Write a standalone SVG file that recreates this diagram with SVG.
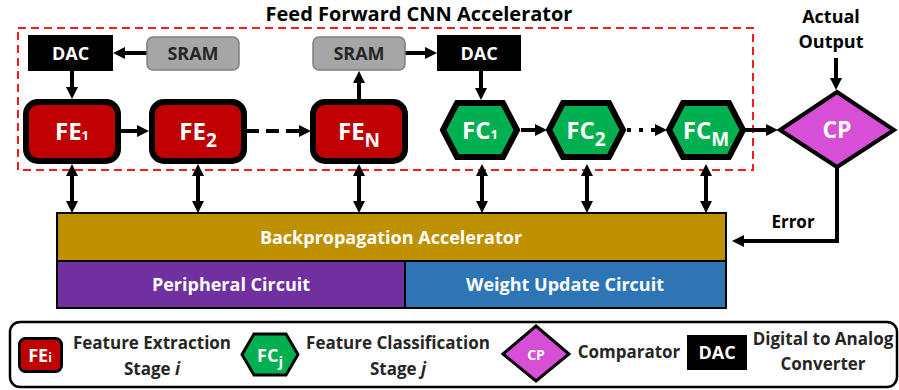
<svg xmlns="http://www.w3.org/2000/svg" width="899" height="390" viewBox="0 0 899 390">
<style>
text{font-family:"Open Sans","Noto Sans","Liberation Sans",sans-serif;font-weight:bold;text-anchor:middle}
.w{fill:#fff}
.k{fill:#000}
.g{fill:#262626}
.fe{fill:#c00000;stroke:#000;stroke-width:6}
.fc{fill:#00b050;stroke:#000;stroke-width:6;stroke-linejoin:miter}
.dac{fill:#000}
.sram{fill:#a6a6a6;stroke:#7f7f7f;stroke-width:1.5}
.c{stroke:#000;stroke-width:4;fill:none}
.a{marker-end:url(#ah)}
.b{marker-start:url(#ah);marker-end:url(#ah)}
</style>
<defs>
<marker id="ah" viewBox="0 0 12 12" refX="2" refY="6" markerWidth="12" markerHeight="12" markerUnits="userSpaceOnUse" orient="auto-start-reverse">
<path d="M0,0 L12,6 L0,12 z" fill="#000"/>
</marker>
</defs>
<rect width="899" height="390" fill="#fff"/>

<g id="title">
<text x="419" y="21" class="k" font-size="20">Feed Forward CNN Accelerator</text>
<rect x="18" y="28" width="735" height="142" fill="none" stroke="#ff1a1a" stroke-width="2" stroke-dasharray="8 5"/>
</g>

<g id="connectors">
<line class="c a" x1="147" y1="53" x2="123" y2="53"/>
<line class="c a" x1="72" y1="71" x2="72" y2="89"/>
<line class="c a" x1="121" y1="131" x2="139" y2="131"/>
<line class="c a" x1="246" y1="131" x2="301" y2="131" stroke-dasharray="13 7"/>
<line class="c a" x1="359" y1="99" x2="359" y2="81"/>
<line class="c a" x1="405" y1="53" x2="427" y2="53"/>
<line class="c a" x1="481" y1="71" x2="481" y2="90"/>
<line class="c a" x1="521" y1="130" x2="537" y2="130"/>
<line class="c a" x1="627" y1="130" x2="657" y2="130" stroke-dasharray="4 8"/>
<line class="c a" x1="745" y1="130" x2="768" y2="130"/>
<line class="c a" x1="836" y1="58" x2="836" y2="80"/>
<path class="c a" d="M837,166 V241 H742"/>
<line class="c b" x1="72" y1="174" x2="72" y2="203"/>
<line class="c b" x1="198" y1="174" x2="198" y2="203"/>
<line class="c b" x1="359" y1="174" x2="359" y2="203"/>
<line class="c b" x1="482" y1="174" x2="482" y2="203"/>
<line class="c b" x1="587" y1="174" x2="587" y2="203"/>
<line class="c b" x1="706" y1="174" x2="706" y2="203"/>
</g>

<g id="dac1"><rect class="dac" x="28" y="35" width="85" height="36"/><text x="70.5" y="60" class="w" font-size="18">DAC</text></g>
<g id="sram1"><rect class="sram" x="147" y="37" width="92" height="33" rx="6"/><text x="193" y="60" class="g" font-size="18">SRAM</text></g>
<g id="sram2"><rect class="sram" x="313" y="37" width="92" height="33" rx="6"/><text x="359" y="60" class="g" font-size="18">SRAM</text></g>
<g id="dac2"><rect class="dac" x="437" y="35" width="84" height="36"/><text x="479" y="60" class="w" font-size="18">DAC</text></g>

<g id="fe1"><rect class="fe" x="26" y="102" width="92" height="59" rx="12"/><text x="72" y="140" class="w" font-size="24">FE<tspan font-size="13">1</tspan></text></g>
<g id="fe2"><rect class="fe" x="152" y="102" width="92" height="59" rx="12"/><text x="198" y="140" class="w" font-size="24">FE<tspan font-size="19" dy="7">2</tspan></text></g>
<g id="fen"><rect class="fe" x="313" y="102" width="92" height="59" rx="12"/><text x="359" y="140" class="w" font-size="24">FE<tspan font-size="19" dy="7">N</tspan></text></g>

<g id="fc1"><path class="fc" d="M443,130 L457,103 L503,103 L517,130 L503,157 L457,157 Z"/><text x="480" y="139" class="w" font-size="24">FC<tspan font-size="13">1</tspan></text></g>
<g id="fc2"><path class="fc" d="M549,130 L563,103 L609,103 L623,130 L609,157 L563,157 Z"/><text x="586" y="139" class="w" font-size="24">FC<tspan font-size="19" dy="7">2</tspan></text></g>
<g id="fcm"><path class="fc" d="M669,130 L683,103 L729,103 L743,130 L729,157 L683,157 Z"/><text x="706" y="139" class="w" font-size="24">FC<tspan font-size="19" dy="7">M</tspan></text></g>

<g id="cp"><path d="M780,130 L837,92 L894,130 L837,167 Z" fill="#d64fd6" stroke="#000" stroke-width="4"/><text x="837" y="138" class="w" font-size="23">CP</text></g>
<g id="actual-output"><text x="831" y="23" class="k" font-size="18">Actual</text><text x="831" y="48" class="k" font-size="18">Output</text></g>
<g id="error-label"><text x="793" y="228" class="k" font-size="17">Error</text></g>

<g id="backprop">
<rect x="57" y="213" width="669" height="48" fill="#bf9000" stroke="#000" stroke-width="2"/>
<text x="391" y="244" class="w" font-size="18">Backpropagation Accelerator</text>
</g>
<g id="peripheral">
<rect x="57" y="261" width="348" height="47" fill="#7030a0" stroke="#000" stroke-width="2"/>
<text x="231" y="291" class="w" font-size="18">Peripheral Circuit</text>
</g>
<g id="weight-update">
<rect x="405" y="261" width="321" height="47" fill="#2e75b6" stroke="#000" stroke-width="2"/>
<text x="565" y="291" class="w" font-size="18">Weight Update Circuit</text>
</g>

<g id="legend">
<rect x="10" y="322" width="887" height="65" rx="10" fill="#fff" stroke="#000" stroke-width="2.5"/>
<rect x="19.5" y="338.5" width="42" height="33" rx="6" fill="#c00000" stroke="#000" stroke-width="3"/>
<text x="40" y="362" class="w" font-size="18">FE<tspan font-size="12">i</tspan></text>
<text x="152" y="349" class="g" font-size="17">Feature Extraction</text>
<text x="152" y="375" class="g" font-size="17">Stage <tspan font-style="italic">i</tspan></text>
<path d="M242,354.5 L254,334 L286,334 L298,354.5 L286,375 L254,375 Z" fill="#00b050" stroke="#000" stroke-width="3"/>
<text x="270" y="362" class="w" font-size="18">FC<tspan font-size="15" dy="5">j</tspan></text>
<text x="398" y="349" class="g" font-size="17">Feature Classification</text>
<text x="398" y="375" class="g" font-size="17">Stage <tspan font-style="italic">j</tspan></text>
<path d="M503,354 L536,326 L569,354 L536,381 Z" fill="#d64fd6" stroke="#000" stroke-width="3"/>
<text x="536" y="360" class="w" font-size="14">CP</text>
<text x="629" y="358" class="g" font-size="17">Comparator</text>
<rect x="687" y="335" width="60" height="35" fill="#000"/>
<text x="717" y="359" class="w" font-size="18">DAC</text>
<text x="823" y="345" class="g" font-size="17">Digital to Analog</text>
<text x="823" y="370" class="g" font-size="17">Converter</text>
</g>
</svg>
